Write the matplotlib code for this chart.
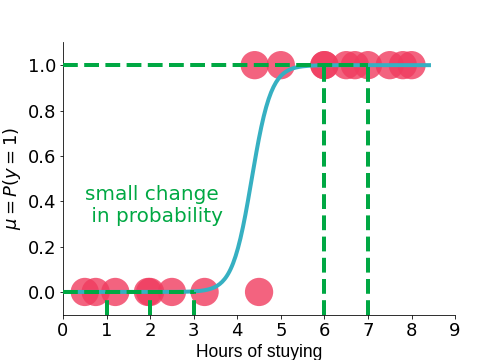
import numpy as np
import matplotlib
matplotlib.use('Agg')
import matplotlib.pyplot as plt

# hours of studying and outcome (0 = fail, 1 = pass)
hours_fail = [0.5, 0.75, 1.2, 1.95, 2.0, 2.5, 3.25, 4.5]
hours_pass = [4.4, 5.0, 6.0, 6.0, 6.5, 6.7, 7.0, 7.5, 7.8, 8.0]

# fitted logistic model parameters
w1 = 4.5
w0 = -19.5
x_max_curve = 8.4

# guide lines
small_change_x = [1, 2, 3]
big_change_x = [6, 7]

green = '#00a843'
pink = '#f03c5f'
teal = '#36b0c2'

fig = plt.figure(figsize=(7, 5), dpi=72)
ax = fig.add_subplot(111)
fig.subplots_adjust(left=0.125, right=0.903, bottom=0.126, top=0.882)

ax.scatter(hours_fail, np.zeros(len(hours_fail)), s=800, color=pink, alpha=0.8,
           edgecolors='none', zorder=2)
ax.scatter(hours_pass, np.ones(len(hours_pass)), s=800, color=pink, alpha=0.8,
           edgecolors='none', zorder=2)

xs = np.linspace(0, x_max_curve, 300)
mu = 1 / (1 + np.exp(-(w0 + w1 * xs)))
ax.plot(xs, mu, color=teal, lw=4, zorder=3)

# dashed guides
ax.plot([0, 7], [1, 1], '--', color=green, lw=4, zorder=4)
ax.plot([0, 3], [0, 0], '--', color=green, lw=4, zorder=4)
for x in big_change_x:
    ax.plot([x, x], [-0.1, 1], '--', color=green, lw=4, zorder=4)
for x in small_change_x:
    ax.plot([x, x], [-0.1, 0], '--', color=green, lw=4, zorder=4)

ax.text(0.5, 0.38, 'small change\n in probability', color=green, fontsize=20,
        ha='left', va='center')

ax.set_xlim(0, 9)
ax.set_ylim(-0.1, 1.1)
ax.set_xticks(range(10))
ax.set_yticks([0.0, 0.2, 0.4, 0.6, 0.8, 1.0])
ax.tick_params(labelsize=18)
ax.spines['top'].set_visible(False)
ax.spines['right'].set_visible(False)

ax.set_xlabel('Hours of stuying', family='Liberation Sans', fontsize=17.5)
ax.set_ylabel(r'$\mu = P(y=1)$', fontsize=18)

fig.savefig('out.png', dpi=72)
